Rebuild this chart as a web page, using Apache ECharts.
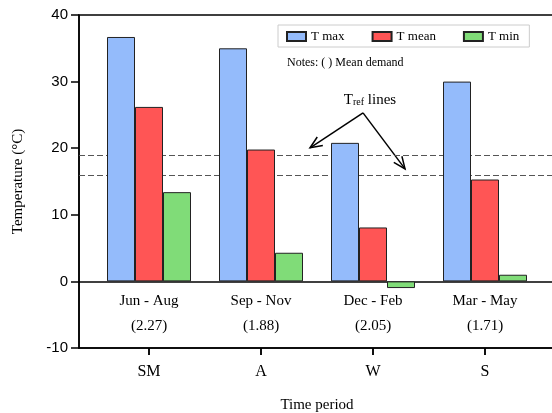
<!DOCTYPE html>
<html>
<head>
<meta charset="utf-8">
<title></title>
<script src="https://cdn.jsdelivr.net/npm/echarts@6/dist/echarts.min.js"></script>
<style>
*{ padding:0; margin:0; }
#main{ width:552px; height:413px; background:#fff; }
</style>
</head>
<body>
<div id="main"></div>
<script>
// data
var codes = ['SM', 'A', 'W', 'S'];
var periods = ['Jun - Aug', 'Sep - Nov', 'Dec - Feb', 'Mar - May'];
var demand = ['(2.27)', '(1.88)', '(2.05)', '(1.71)'];
var tMax = [36.7, 35.0, 20.8, 30.0];
var tMean = [26.2, 19.8, 8.1, 15.3];
var tMin = [13.4, 4.3, -1.0, 1.0];
var tRef = [19, 16];

var serif = 'Liberation Serif';
var yMin = -10, yMax = 40;
var plotH = 333;
var positions = codes.map(function (c, i) { return i + 1; });
var chart = echarts.init(document.getElementById('main'));

function pairs(arr) {
    return arr.map(function (v, i) { return [i + 1, v]; });
}

function barSeries(name, arr, color, extra) {
    var s = {
        name: name,
        type: 'bar',
        xAxisIndex: 0,
        yAxisIndex: 0,
        barWidth: 28,
        barGap: '0%',
        itemStyle: { color: color, borderColor: '#222', borderWidth: 1 },
        emphasis: { disabled: true },
        data: pairs(arr)
    };
    if (extra) { s.markLine = extra; }
    return s;
}

var refLines = {
    silent: true,
    symbol: 'none',
    z: 1,
    label: { show: false },
    data: tRef.map(function (v) {
        return { yAxis: v, lineStyle: { color: '#555', type: [6, 3], width: 1 } };
    }).concat([{ yAxis: 0, lineStyle: { color: '#000', type: 'solid', width: 1.5 } }])
};

var option = {
    animation: false,
    backgroundColor: '#fff',
    grid: [
        { left: 79, top: 15, width: 476, height: plotH, show: true, borderColor: '#000', borderWidth: 1.5, outerBoundsMode: 'none' },
        { left: 93, top: 15, width: 448, height: plotH, outerBoundsMode: 'none' }
    ],
    legend: {
        left: 278, top: 25,
        padding: [5, 10, 4, 8],
        itemWidth: 19, itemHeight: 9, itemGap: 27,
        borderColor: '#ccc', borderWidth: 1,
        icon: 'rect',
        textStyle: { fontFamily: serif, fontSize: 13, color: '#000' },
        data: ['T max', 'T mean', 'T min']
    },
    xAxis: [
        {
            type: 'value', gridIndex: 0, min: 0.375, max: 4.625,
            axisLine: { show: true, onZero: false, lineStyle: { color: '#000', width: 1.5 } },
            axisTick: { show: true, customValues: positions, length: 7, lineStyle: { color: '#000', width: 1.5 } },
            axisLabel: {
                show: true, customValues: positions, margin: 16,
                fontFamily: serif, fontSize: 16, color: '#000',
                formatter: function (v) { return codes[Math.round(v) - 1]; }
            },
            splitLine: { show: false },
            name: 'Time period', nameLocation: 'middle', nameGap: 50,
            nameTextStyle: { fontFamily: serif, fontSize: 15, color: '#000' }
        },
        {
            // season labels hang just below the zero line
            type: 'category', gridIndex: 1, position: 'bottom',
            offset: -plotH * (0 - yMin) / (yMax - yMin),
            data: periods.map(function (p, i) { return p + '\n' + demand[i]; }),
            axisLine: { show: false, onZero: false },
            axisTick: { show: false },
            axisLabel: { margin: 7, fontFamily: serif, fontSize: 15, lineHeight: 25, color: '#000' }
        }
    ],
    yAxis: [
        {
            type: 'value', gridIndex: 0, min: yMin, max: yMax, interval: 10,
            axisLine: { show: true, lineStyle: { color: '#000', width: 1.5 } },
            axisTick: { show: true, length: 8, lineStyle: { color: '#000', width: 1.5 } },
            axisLabel: { margin: 11, fontFamily: 'Liberation Sans', fontSize: 15, color: '#000' },
            splitLine: { show: false },
            name: 'Temperature (\u00B0C)', nameLocation: 'middle', nameGap: 53,
            nameTextStyle: { fontFamily: serif, fontSize: 15, color: '#000' }
        },
        {
            type: 'value', gridIndex: 1, min: yMin, max: yMax, show: false
        }
    ],
    series: [
        barSeries('T max', tMax, '#94bbfb', refLines),
        barSeries('T mean', tMean, '#ff5555'),
        barSeries('T min', tMin, '#80dc78')
    ]
};
chart.setOption(option);

// annotation: notes text and T_ref arrows, placed in data space
function px(x, y) { return chart.convertToPixel({ xAxisIndex: 0, yAxisIndex: 0 }, [x, y]); }
function arrow(from, to) {
    var a = px(from[0], from[1]), b = px(to[0], to[1]);
    var ang = Math.atan2(b[1] - a[1], b[0] - a[0]);
    var len = 13, spread = 0.4;
    var h1 = [b[0] - len * Math.cos(ang - spread), b[1] - len * Math.sin(ang - spread)];
    var h2 = [b[0] - len * Math.cos(ang + spread), b[1] - len * Math.sin(ang + spread)];
    return [
        { type: 'line', shape: { x1: a[0], y1: a[1], x2: b[0], y2: b[1] }, style: { stroke: '#000', lineWidth: 1.5 }, silent: true },
        { type: 'polyline', shape: { points: [h1, b, h2] }, style: { stroke: '#000', lineWidth: 1.5, fill: null }, silent: true }
    ];
}
// category ticks under the bottom axis (same spots as the axis ticks)
function catTicks() {
    return positions.map(function (p) {
        var q = px(p, yMin);
        return { type: 'line', shape: { x1: q[0], y1: q[1], x2: q[0], y2: q[1] + 7 }, style: { stroke: '#000', lineWidth: 1.5 }, silent: true };
    });
}
var apex = [2.911, 25.3];
var labelPos = px(2.973, 27.3);
var notePos = px(2.232, 32.8);
var graphics = [
    {
        type: 'text', x: notePos[0], y: notePos[1], silent: true, z: 10,
        style: { text: 'Notes: ( ) Mean demand', font: '12px ' + serif, fill: '#000', verticalAlign: 'middle' }
    },
    {
        type: 'text', x: labelPos[0], y: labelPos[1], silent: true,
        style: {
            text: '{t|T}{s|ref}{t| lines}',
            align: 'center', verticalAlign: 'middle',
            rich: {
                t: { fontFamily: serif, fontSize: 15, fill: '#000' },
                s: { fontFamily: serif, fontSize: 10, fill: '#000', padding: [6, 0, 0, 0] }
            }
        }
    }
].concat(arrow(apex, [2.438, 20.06])).concat(arrow(apex, [3.286, 16.9])).concat(catTicks());
chart.setOption({ graphic: graphics });
</script>
</body>
</html>
